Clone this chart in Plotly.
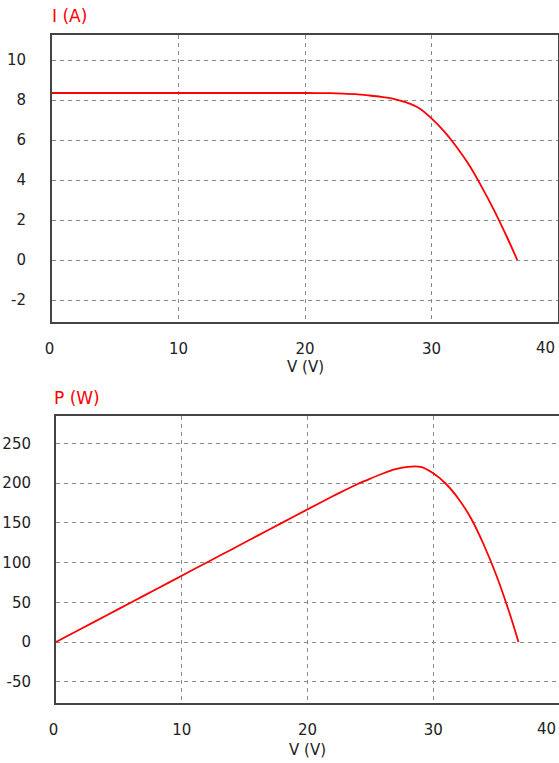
import plotly.graph_objects as go

# Data
V = [0, 2, 4, 6, 8, 10, 12, 14, 16, 18, 20, 22, 23, 24, 25, 26, 27, 28, 29, 30,
     31, 32, 33, 34, 35, 36, 36.78]
I = [8.35, 8.35, 8.35, 8.35, 8.35, 8.35, 8.35, 8.35, 8.35, 8.35, 8.35, 8.34, 8.32,
     8.29, 8.23, 8.16, 8.06, 7.88, 7.60, 7.08, 6.43, 5.64, 4.72, 3.62, 2.42, 1.10, 0.0]
P = [0, 16.7, 33.4, 50.1, 66.8, 83.5, 100.2, 116.9, 133.6, 150.3, 167.0, 183.5, 191.4,
     199.0, 205.8, 212.2, 217.6, 220.6, 220.4, 212.4, 199.3, 180.5, 155.8, 123.1, 84.7, 39.6, 0.0]

NB = "\u00a0"
x_ticks = [0, 10, 20, 30, 40]
x_text = ["0" + NB, "10", "20", "30", ""]   # the last label is placed inside the edge below
x_last = "40"
i_ticks = [-2, 0, 2, 4, 6, 8, 10]
i_text = ["-2", "0", "2", "4", "6", "8", "10"]
p_ticks = [-50, 0, 50, 100, 150, 200, 250]
p_text = ["-50", "0", "50", "100", "150", "200", "250"]

W, H = 559, 763
RED = "#ff0000"
FONT = dict(family="DejaVu Sans", size=15, color="#222222")
TFONT = dict(family="DejaVu Sans", size=17, color=RED)

fig = go.Figure()
fig.add_trace(go.Scatter(x=V, y=I, mode="lines",
                         line=dict(color=RED, width=1.8, shape="spline", smoothing=0.8),
                         xaxis="x", yaxis="y", showlegend=False, hoverinfo="skip"))
fig.add_trace(go.Scatter(x=V, y=P, mode="lines",
                         line=dict(color=RED, width=1.8, shape="spline", smoothing=0.8),
                         xaxis="x2", yaxis="y2", showlegend=False, hoverinfo="skip"))

grid = dict(showgrid=True, gridcolor="#8a8a8a", griddash="4px,4px", gridwidth=1,
            zeroline=False, showline=True, mirror=True, linecolor="#444444", linewidth=2,
            ticks="", tickfont=FONT, fixedrange=True, automargin=False)


def px_x(p):
    return p / W


def px_y(p):
    return 1 - p / H


fig.update_layout(
    width=W, height=H, margin=dict(l=0, r=0, t=0, b=0, autoexpand=False),
    paper_bgcolor="white", plot_bgcolor="white",
    xaxis=dict(domain=[px_x(52), px_x(558)], range=[0, 40], tickvals=x_ticks,
               ticktext=x_text, anchor="y", ticklabelstandoff=12, **grid),
    yaxis=dict(domain=[px_y(322), px_y(35)], range=[-3.1, 11.25], tickvals=i_ticks,
               ticktext=i_text, anchor="x", ticklabelstandoff=21, **grid),
    xaxis2=dict(domain=[px_x(56), 1.0], range=[0, 40], tickvals=x_ticks,
                ticktext=x_text, anchor="y2", ticklabelstandoff=12, **grid),
    yaxis2=dict(domain=[px_y(703), px_y(416)], range=[-76.8, 284.6], tickvals=p_ticks,
                ticktext=p_text, anchor="x2", ticklabelstandoff=20, **grid),
    annotations=[
        dict(text="I (A)", x=px_x(50), y=px_y(16), xref="paper", yref="paper",
             xanchor="left", yanchor="middle", showarrow=False, font=TFONT),
        dict(text="P (W)", x=px_x(52), y=px_y(398), xref="paper", yref="paper",
             xanchor="left", yanchor="middle", showarrow=False, font=TFONT),
        dict(text="V (V)", x=px_x(305), y=px_y(367), xref="paper", yref="paper",
             xanchor="center", yanchor="middle", showarrow=False, font=FONT),
        dict(text="V (V)", x=px_x(308), y=px_y(750), xref="paper", yref="paper",
             xanchor="center", yanchor="middle", showarrow=False, font=FONT),
        dict(text=x_last, x=px_x(557), y=px_y(348), xref="paper", yref="paper",
             xanchor="right", yanchor="middle", showarrow=False, font=FONT),
        dict(text=x_last, x=px_x(558), y=px_y(729), xref="paper", yref="paper",
             xanchor="right", yanchor="middle", showarrow=False, font=FONT),
    ],
)

fig.write_html("out.html", config={"displayModeBar": False},
               post_script="document.body.style.margin='0';document.body.style.overflow='hidden';")
